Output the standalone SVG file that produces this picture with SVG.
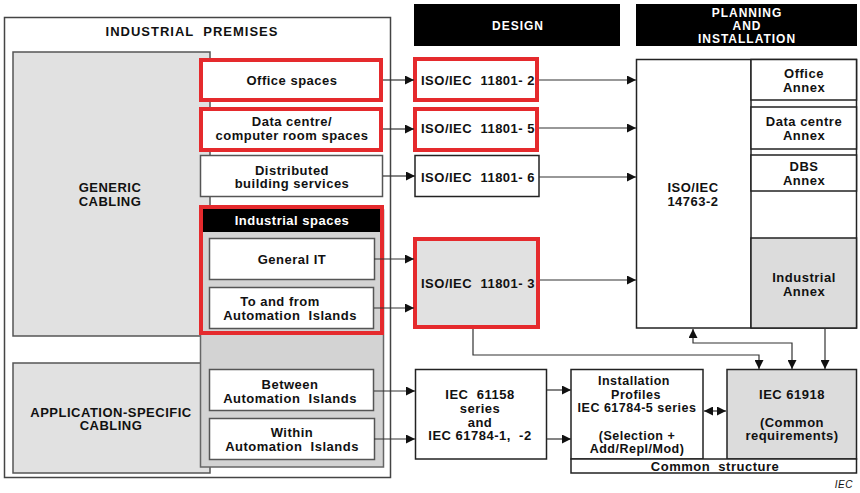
<svg xmlns="http://www.w3.org/2000/svg" width="860" height="493" viewBox="0 0 860 493">
<style>
text{font-family:"Liberation Sans",Arial,sans-serif;font-weight:bold;font-size:13px;letter-spacing:0.5px;fill:#111;text-anchor:middle;white-space:pre}
.lt{text-anchor:start}
.sm{font-size:12.5px}
.w{fill:#fff}
.hd{font-size:12px;letter-spacing:1px;fill:#fff}
.box{fill:#fff;stroke:#555;stroke-width:1.5}
.boxk{fill:#fff;stroke:#222;stroke-width:1.5}
.gray{fill:#e1e1e1;stroke:#555;stroke-width:1.5}
.red{fill:none;stroke:#e52a2d;stroke-width:4}
.conn path,.conn line{fill:none;stroke:#333;stroke-width:1.2}
</style>
<defs>
<marker id="ah" viewBox="0 0 10 10" refX="10" refY="5" markerWidth="9" markerHeight="9" markerUnits="userSpaceOnUse" orient="auto-start-reverse"><path d="M0,0 L10,5 L0,10z" fill="#111"/></marker>
</defs>
<rect width="860" height="493" fill="#fff"/>

<g id="premises">
<rect x="4.5" y="17.5" width="386" height="460" fill="#fff" stroke="#444" stroke-width="1.5"/>
<text x="192" y="36" style="letter-spacing:1px">INDUSTRIAL  PREMISES</text>
</g>
<g id="generic">
<rect class="gray" x="13" y="52" width="197" height="284"/>
<text x="110" y="192">GENERIC</text>
<text x="110" y="205.5">CABLING</text>
</g>
<g id="appspecific">
<rect class="gray" x="13" y="363" width="197" height="110"/>
<text x="111" y="416.5">APPLICATION-SPECIFIC</text>
<text x="111" y="430">CABLING</text>
</g>

<g id="office">
<rect x="201" y="60" width="180" height="40" fill="#fff"/>
<rect class="red" x="201" y="60" width="180" height="40"/>
<text x="292" y="84.5">Office spaces</text>
</g>
<g id="datacentre">
<rect x="201" y="109" width="180" height="41" fill="#fff"/>
<rect class="red" x="201" y="109" width="180" height="41"/>
<text x="292" y="125.5">Data centre/</text>
<text x="292" y="139.5">computer room spaces</text>
</g>
<g id="dbs">
<rect class="box" x="200.5" y="155.5" width="182" height="41"/>
<text x="292" y="174.5">Distributed</text>
<text x="292" y="188">building services</text>
</g>

<g id="industrial">
<rect x="200.5" y="210" width="183" height="257" fill="#d3d3d3" stroke="#666" stroke-width="1.5"/>
<rect x="203" y="209" width="177" height="23" fill="#000"/>
<text class="w" x="292" y="224.5">Industrial spaces</text>
<rect class="red" x="201" y="207" width="181" height="126"/>
</g>
<g id="generalit">
<rect class="box" x="209.5" y="238.5" width="165" height="41"/>
<text x="292" y="264">General IT</text>
</g>
<g id="tofrom">
<rect class="box" x="209.5" y="287.5" width="164" height="41"/>
<text x="280" y="305.5">To and from</text>
<text x="290" y="319.5">Automation  Islands</text>
</g>
<g id="between">
<rect class="box" x="209.5" y="369.5" width="164" height="41"/>
<text x="290" y="388.5">Between</text>
<text x="290" y="402.5">Automation  Islands</text>
</g>
<g id="within">
<rect class="box" x="209.5" y="418.5" width="165" height="41"/>
<text x="292" y="436.5">Within</text>
<text x="292" y="450.5">Automation  Islands</text>
</g>

<g id="design-hdr">
<rect x="414" y="4" width="206" height="42" fill="#000"/>
<text class="hd" x="518" y="29.5">DESIGN</text>
</g>
<g id="planning-hdr">
<rect x="636" y="4" width="221" height="42" fill="#000"/>
<text class="hd" x="747" y="16.5">PLANNING</text>
<text class="hd" x="747" y="29.5">AND</text>
<text class="hd" x="747" y="43">INSTALLATION</text>
</g>

<g id="iso2">
<rect x="415" y="59" width="122" height="41" fill="#fff"/>
<rect class="red" x="415" y="59" width="122" height="41"/>
<text class="lt" x="421" y="84.5">ISO/IEC  11801- 2</text>
</g>
<g id="iso5">
<rect x="415" y="109" width="122" height="41" fill="#fff"/>
<rect class="red" x="415" y="109" width="122" height="41"/>
<text class="lt" x="421" y="132.5">ISO/IEC  11801- 5</text>
</g>
<g id="iso6">
<rect class="boxk" x="415" y="155.5" width="124" height="41"/>
<text class="lt" x="421" y="181.5">ISO/IEC  11801- 6</text>
</g>
<g id="iso3">
<rect x="415" y="239" width="123" height="88" fill="#e1e1e1"/>
<rect class="red" x="415" y="239" width="123" height="88"/>
<text class="lt" x="421" y="287.5">ISO/IEC  11801- 3</text>
</g>

<g id="iso14763">
<rect class="boxk" x="636.5" y="59.5" width="220" height="268.5"/>
<line x1="751" y1="59.5" x2="751" y2="328" stroke="#222" stroke-width="1.5"/>
<text x="693" y="191.5">ISO/IEC</text>
<text x="693" y="206">14763-2</text>
</g>
<g id="annex-office">
<rect class="boxk" x="751" y="59.5" width="105.5" height="40.5"/>
<text x="804" y="77.5">Office</text>
<text x="804" y="91.5">Annex</text>
</g>
<g id="annex-dc">
<rect class="boxk" x="751" y="107" width="105.5" height="42"/>
<text x="804" y="125.5">Data centre</text>
<text x="804" y="140">Annex</text>
</g>
<g id="annex-dbs">
<rect class="boxk" x="751" y="155" width="105.5" height="36"/>
<text x="804" y="170.5">DBS</text>
<text x="804" y="184.5">Annex</text>
</g>
<g id="annex-ind">
<rect x="751" y="238" width="105.5" height="90" fill="#dcdcdc" stroke="#222" stroke-width="1.5"/>
<text x="804" y="281.5">Industrial</text>
<text x="804" y="295.5">Annex</text>
</g>

<g id="iec61158">
<rect class="boxk" x="415.5" y="369.5" width="131" height="89.5"/>
<text x="480" y="398.5">IEC  61158</text>
<text x="480" y="412.5">series</text>
<text x="480" y="426.5">and</text>
<text x="480" y="440">IEC 61784-1,  -2</text>
</g>
<g id="profiles">
<rect class="boxk" x="571" y="369.5" width="132" height="89.5"/>
<text class="sm" x="634" y="385">Installation</text>
<text class="sm" x="636" y="398.5">Profiles</text>
<text class="sm" x="637" y="412">IEC 61784-5 series</text>
<text class="sm" x="637" y="439.5">(Selection +</text>
<text class="sm" x="637" y="453">Add/Repl/Mod)</text>
</g>
<g id="iec61918">
<rect x="727" y="369.5" width="129.5" height="89.5" fill="#dcdcdc" stroke="#222" stroke-width="1.5"/>
<text x="792" y="398.5">IEC 61918</text>
<text x="792" y="426.5">(Common</text>
<text x="792" y="440">requirements)</text>
</g>
<g id="common">
<rect class="boxk" x="571" y="459" width="285.5" height="14"/>
<text x="715" y="470.5">Common  structure</text>
</g>
<text x="853" y="488" style="font-weight:normal;font-style:italic;font-size:10px;text-anchor:end;letter-spacing:0.5px">IEC</text>

<g class="conn">
<line x1="383" y1="80" x2="414" y2="80" marker-end="url(#ah)"/>
<line x1="383" y1="129" x2="414" y2="129" marker-end="url(#ah)"/>
<line x1="383" y1="176" x2="415" y2="176" marker-end="url(#ah)"/>
<line x1="374" y1="259" x2="414" y2="259" marker-end="url(#ah)"/>
<line x1="374" y1="308" x2="414" y2="308" marker-end="url(#ah)"/>
<line x1="374" y1="391" x2="415" y2="391" marker-end="url(#ah)"/>
<line x1="374" y1="439" x2="415" y2="439" marker-end="url(#ah)"/>
<line x1="539" y1="80" x2="636" y2="80" marker-end="url(#ah)"/>
<line x1="539" y1="128" x2="636" y2="128" marker-end="url(#ah)"/>
<line x1="539" y1="177" x2="636" y2="177" marker-end="url(#ah)"/>
<line x1="540" y1="280" x2="636" y2="280" marker-end="url(#ah)"/>
<line x1="547" y1="390" x2="571" y2="390" marker-end="url(#ah)"/>
<line x1="547" y1="439" x2="571" y2="439" marker-end="url(#ah)"/>
<line x1="704" y1="411" x2="726" y2="411" marker-start="url(#ah)" marker-end="url(#ah)"/>
<path d="M473,329 V355 H759 V369" marker-end="url(#ah)"/>
<path d="M693,329 V343 H792 V369" marker-start="url(#ah)" marker-end="url(#ah)"/>
<line x1="825" y1="328" x2="825" y2="369" marker-end="url(#ah)"/>
</g>
</svg>
